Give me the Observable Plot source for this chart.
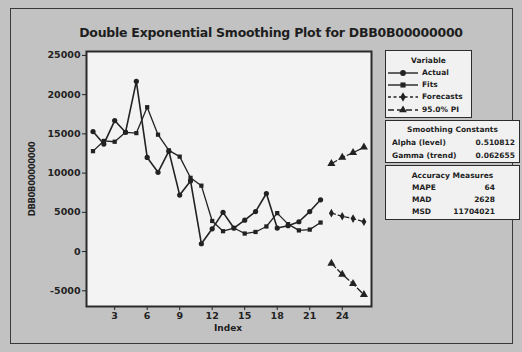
<!DOCTYPE html>
<html>
<head>
<meta charset="utf-8">
<script src="https://cdn.jsdelivr.net/npm/d3@7"></script>
<script src="https://cdn.jsdelivr.net/npm/@observablehq/plot@0.6"></script>
<style>
  html, body { margin: 0; padding: 0; background: #c2c2c2; }
  #chart { position: relative; width: 522px; height: 352px; background: #c2c2c2; overflow: hidden;
           font-family: "DejaVu Sans", sans-serif; color: #1e1e1e; }
  #border { position: absolute; left: 10px; top: 8px; width: 503px; height: 336px; border: 1.5px solid #3a3a3a; box-sizing: border-box; }
  #title { position: absolute; left: 0; width: 542px; top: 25px; text-align: center; font-weight: bold; font-size: 12.5px; letter-spacing: -0.25px; }
  #plot { position: absolute; left: 0; top: 0; }
  #ylab { position: absolute; left: 32px; top: 179px; transform: translate(-50%, -50%) rotate(-90deg); font-weight: bold; font-size: 8.5px; letter-spacing: -0.4px; white-space: nowrap; }
  #xlab { position: absolute; left: 228px; top: 323px; transform: translateX(-50%); font-weight: bold; font-size: 9px; }
  .box { position: absolute; background: #f1f1f1; border: 1.5px solid #2c2c2c; box-sizing: border-box; font-weight: bold; font-size: 7.5px; }
  .hdr { position: absolute; left: 0; right: 0; text-align: center; }
  .row { position: absolute; white-space: nowrap; }
  .val { position: absolute; text-align: right; white-space: nowrap; }
</style>
</head>
<body>
<div id="chart">
  <div id="border"></div>
  <div id="title">Double Exponential Smoothing Plot for DBB0B00000000</div>
  <div id="plot"></div>
  <div id="ylab">DBB0B00000000</div>
  <div id="xlab">Index</div>
  <div id="legend"></div>
</div>
<script>
// ---- data ----
const histIndex = [1,2,3,4,5,6,7,8,9,10,11,12,13,14,15,16,17,18,19,20,21,22];
const actual = [15300,13700,16700,15200,21700,12000,10100,12800,7200,9000,1000,2900,5000,3000,4000,5100,7400,3000,3300,3800,5100,6600];
const fits   = [12800,14100,14000,15200,15100,18400,14900,12900,12100,9400,8400,3900,2600,3000,2300,2500,3200,4900,3500,2700,2800,3700];
const fcIndex = [23,24,25,26];
const forecasts = [4900,4500,4200,3800];
const upperPI   = [11200,12000,12600,13300];
const lowerPI   = [-1500,-2900,-4100,-5500];
const xTicks = [3,6,9,12,15,18,21,24];
const yTicks = [-5000,0,5000,10000,15000,20000,25000];
const seriesNames = ["Actual","Fits","Forecasts","95.0% PI"];
const smoothingLabels = ["Alpha (level)","Gamma (trend)"];
const smoothingValues = ["0.510812","0.062655"];
const accuracyLabels = ["MAPE","MAD","MSD"];
const accuracyValues = ["64","2628","11704021"];

const ink = "#222";
const hist = histIndex.map((x,i) => ({x, actual: actual[i], fits: fits[i]}));
const fc = fcIndex.map((x,i) => ({x, f: forecasts[i], up: upperPI[i], lo: lowerPI[i]}));

const chart = Plot.plot({
  width: 380, height: 335,
  marginLeft: 86, marginRight: 9, marginTop: 51, marginBottom: 29,
  style: {fontFamily: "DejaVu Sans, sans-serif", fontSize: "9.5px", fontWeight: "bold", color: ink, background: "transparent"},
  x: {domain: [0.4, 26.7], ticks: xTicks, tickSize: 4, tickPadding: 2, label: null},
  y: {domain: [-7000, 25500], ticks: yTicks, tickSize: 4, tickPadding: 2, label: null, tickFormat: d => String(d)},
  marks: [
    Plot.frame({fill: "#f3f3f3"}),
    Plot.line(hist, {x: "x", y: "fits", stroke: ink, strokeWidth: 1.3}),
    Plot.line(hist, {x: "x", y: "actual", stroke: ink, strokeWidth: 1.6}),
    Plot.line(fc, {x: "x", y: "f", stroke: ink, strokeWidth: 1.3, strokeDasharray: "4,3"}),
    Plot.line(fc, {x: "x", y: "up", stroke: ink, strokeWidth: 1.3, strokeDasharray: "6,3"}),
    Plot.line(fc, {x: "x", y: "lo", stroke: ink, strokeWidth: 1.3, strokeDasharray: "6,3"}),
    Plot.dot(hist, {x: "x", y: "actual", symbol: "circle", r: 2.6, fill: ink}),
    Plot.dot(hist, {x: "x", y: "fits", symbol: "square", r: 2.4, fill: ink}),
    Plot.dot(fc, {x: "x", y: "f", symbol: "diamond", r: 2.6, fill: ink}),
    Plot.dot(fc, {x: "x", y: "up", symbol: "triangle", r: 3, fill: ink}),
    Plot.dot(fc, {x: "x", y: "lo", symbol: "triangle", r: 3, fill: ink}),
    Plot.frame({stroke: "#2a2a2a", strokeWidth: 2})
  ]
});
document.getElementById("plot").appendChild(chart);

// ---- legend boxes (HTML text) ----
const legend = document.getElementById("legend");
function el(tag, cls, style, text) {
  const e = document.createElement(tag);
  if (cls) e.className = cls;
  Object.assign(e.style, style);
  if (text != null) e.textContent = text;
  return e;
}
// Variable box
const vbox = el("div", "box", {left: "385px", top: "50px", width: "87px", height: "68px"});
vbox.appendChild(el("div", "hdr", {top: "5px"}, "Variable"));
const swatchDefs = [
  {sym: d3.symbolCircle, dash: null},
  {sym: d3.symbolSquare, dash: null},
  {sym: d3.symbolDiamond, dash: "3,2.5"},
  {sym: d3.symbolTriangle, dash: "6,3"}
];
seriesNames.forEach((name, i) => {
  const cy = 21.5 + i * 12.4;
  const s = document.createElementNS("http://www.w3.org/2000/svg", "svg");
  s.setAttribute("width", 30); s.setAttribute("height", 10);
  s.style.position = "absolute"; s.style.left = "2px"; s.style.top = (cy - 5) + "px";
  const ln = document.createElementNS("http://www.w3.org/2000/svg", "line");
  ln.setAttribute("x1", 0); ln.setAttribute("x2", 30); ln.setAttribute("y1", 5); ln.setAttribute("y2", 5);
  ln.setAttribute("stroke", ink); ln.setAttribute("stroke-width", 1.4);
  if (swatchDefs[i].dash) ln.setAttribute("stroke-dasharray", swatchDefs[i].dash);
  s.appendChild(ln);
  const p = document.createElementNS("http://www.w3.org/2000/svg", "path");
  p.setAttribute("d", d3.symbol(swatchDefs[i].sym, 26)());
  p.setAttribute("transform", "translate(15,5)");
  p.setAttribute("fill", ink);
  s.appendChild(p);
  vbox.appendChild(s);
  vbox.appendChild(el("div", "row", {left: "36px", top: (cy - 5) + "px"}, name));
});
legend.appendChild(vbox);

// Smoothing constants box
const sbox = el("div", "box", {left: "385px", top: "120px", width: "135px", height: "43px"});
sbox.appendChild(el("div", "hdr", {top: "4px"}, "Smoothing Constants"));
smoothingLabels.forEach((lab, i) => {
  const top = 17 + i * 12.5;
  sbox.appendChild(el("div", "row", {left: "6px", top: top + "px"}, lab));
  sbox.appendChild(el("div", "val", {right: "4px", top: top + "px"}, smoothingValues[i]));
});
legend.appendChild(sbox);

// Accuracy measures box
const abox = el("div", "box", {left: "385px", top: "165px", width: "135px", height: "55px"});
abox.appendChild(el("div", "hdr", {top: "5px"}, "Accuracy Measures"));
accuracyLabels.forEach((lab, i) => {
  const top = 17 + i * 12.2;
  abox.appendChild(el("div", "row", {left: "26px", top: top + "px"}, lab));
  abox.appendChild(el("div", "val", {right: "24px", top: top + "px"}, accuracyValues[i]));
});
legend.appendChild(abox);
</script>
</body>
</html>
